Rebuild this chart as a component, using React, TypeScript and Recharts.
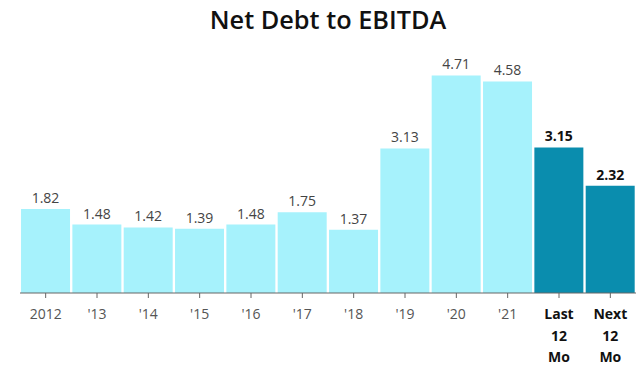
import React from "react"
import { BarChart, Bar, XAxis, YAxis, Cell, LabelList } from "recharts"

const categories = ["2012", "'13", "'14", "'15", "'16", "'17", "'18", "'19", "'20", "'21", "Last 12 Mo", "Next 12 Mo"]
const values = [1.82, 1.48, 1.42, 1.39, 1.48, 1.75, 1.37, 3.13, 4.71, 4.58, 3.15, 2.32]
const estimates = [false, false, false, false, false, false, false, false, false, false, true, true]

const data = categories.map((name, i) => ({ name, value: values[i], est: estimates[i] }))

const FONT = "'Open Sans', sans-serif"

function Tick(props: any) {
  const { x, y, payload, index } = props
  const est = estimates[index]
  const lines = est ? String(payload.value).split(" ") : [String(payload.value)]
  return (
    <g>
      {lines.map((l: string, i: number) => (
        <text
          key={i}
          x={x}
          y={y + 19 + i * 21.5}
          textAnchor="middle"
          fontFamily={FONT}
          fontSize={14}
          fontWeight={est ? 700 : 400}
          fill={est ? "#111" : "#555"}
        >
          {l}
        </text>
      ))}
    </g>
  )
}

function ValueLabel(props: any) {
  const { x, y, width, value, index } = props
  const est = estimates[index]
  return (
    <text
      x={x + width / 2}
      y={y - 6}
      textAnchor="middle"
      fontFamily={FONT}
      fontSize={14}
      fontWeight={est ? 700 : 400}
      fill={est ? "#111" : "#444"}
    >
      {value.toFixed(2)}
    </text>
  )
}

export default function App() {
  return (
    <div style={{ position: "absolute", left: 0, top: 0, width: 642, height: 370, background: "#fff" }}>
      <div
        style={{
          position: "absolute",
          top: 1.5,
          left: 7,
          width: 642,
          textAlign: "center",
          fontFamily: FONT,
          fontSize: 25.3,
          fontWeight: 600,
          color: "#111",
          whiteSpace: "nowrap",
        }}
      >
        Net Debt to EBITDA
      </div>
      <BarChart
        width={642}
        height={370}
        data={data}
        margin={{ top: 62, right: 6, left: 20, bottom: 0 }}
        barCategoryGap="2%"
      >
        <YAxis hide domain={[0, 5]} />
        <XAxis
          dataKey="name"
          interval={0}
          height={77}
          axisLine={{ stroke: "#666" }}
          tickLine={{ stroke: "#666" }}
          tickSize={5}
          tick={<Tick />}
        />
        <Bar dataKey="value" isAnimationActive={false}>
          {data.map((d, i) => (
            <Cell key={i} fill={d.est ? "#0A8DAE" : "#A6F2FC"} />
          ))}
          <LabelList dataKey="value" content={<ValueLabel />} />
        </Bar>
      </BarChart>
    </div>
  )
}
